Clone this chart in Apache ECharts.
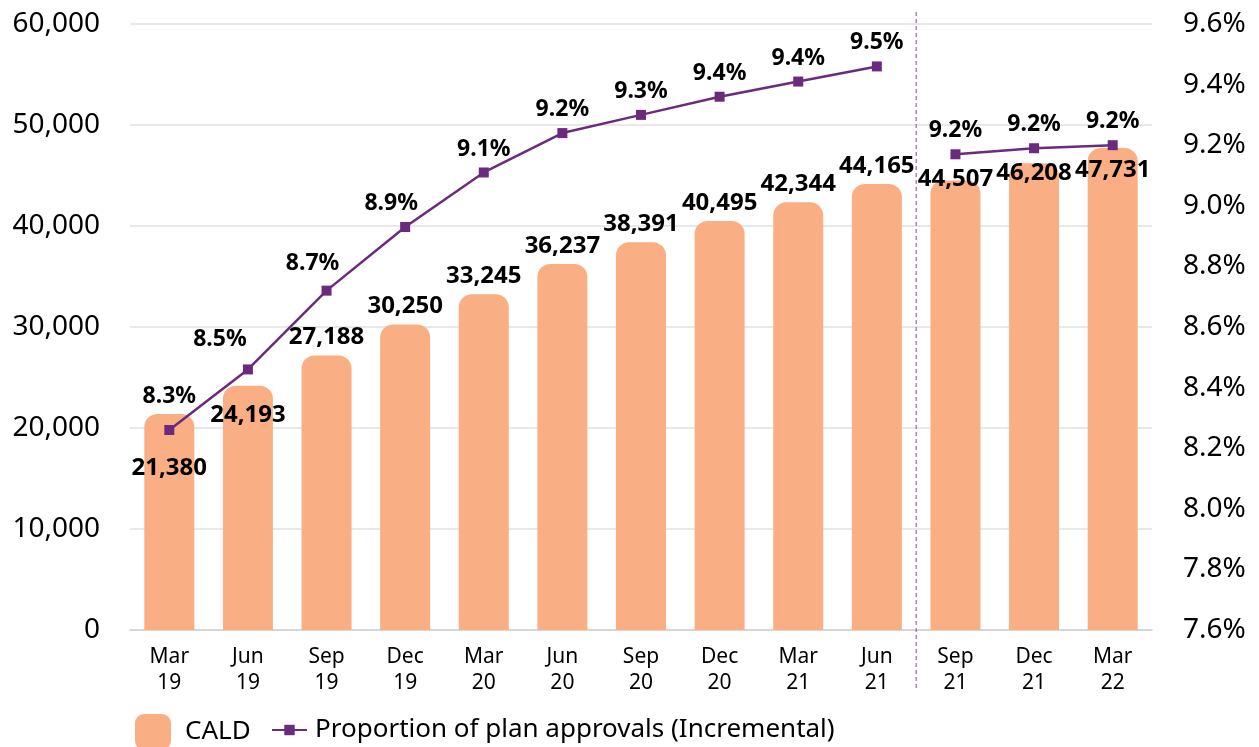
<!DOCTYPE html>
<html>
<head>
<meta charset="utf-8">
<script src="https://cdn.jsdelivr.net/npm/echarts@6/dist/echarts.min.js"></script>
<style>
  html, body { margin: 0; padding: 0; background: #fff; }
  #chart { width: 1259px; height: 747px; }
</style>
</head>
<body>
<div id="chart"></div>
<script>
// categories (quarter, year)
const quarters = ['Mar\n19', 'Jun\n19', 'Sep\n19', 'Dec\n19', 'Mar\n20', 'Jun\n20', 'Sep\n20',
  'Dec\n20', 'Mar\n21', 'Jun\n21', 'Sep\n21', 'Dec\n21', 'Mar\n22'];

// CALD participants (bars)
const caldCounts = [21380, 24193, 27188, 30250, 33245, 36237, 38391, 40495, 42344, 44165, 44507, 46208, 47731];

// proportion of plan approvals, % (line)
const planShare = [8.26, 8.46, 8.72, 8.93, 9.11, 9.24, 9.30, 9.36, 9.41, 9.46, 9.17, 9.19, 9.20];

// first series of the line stops at Jun 21, second one starts at Sep 21
const breakIndex = 10;

const leftTicks = { min: 0, max: 60000, interval: 10000 };
const rightTicks = { min: 7.6, max: 9.6, interval: 0.2 };

// label nudges so the numbers don't sit on the line
const barLabelShift = { 0: 72, 1: 48, 10: 17, 11: 28, 12: 40 };
const lineLabelShift = { 0: [0, -10], 1: [-28, -6], 2: [-14, -4], 3: [-14, 0] };

const FONT = '"Noto Sans", sans-serif';
const BAR_COLOR = '#F9AE84';
const LINE_COLOR = '#6C2A7F';
const LINE_NAME = 'Proportion of plan approvals (Incremental)';

const chart = echarts.init(document.getElementById('chart'));

const barData = caldCounts.map((v, i) => {
  if (barLabelShift[i] === undefined) return v;
  return { value: v, label: { offset: [0, barLabelShift[i]] } };
});

const lineItem = (v, i) => {
  if (!lineLabelShift[i]) return v;
  return { value: v, label: { offset: lineLabelShift[i] } };
};
const lineFirst = planShare.map((v, i) => (i < breakIndex ? lineItem(v, i) : '-'));
const lineSecond = planShare.map((v, i) => (i >= breakIndex ? lineItem(v, i) : '-'));

const lineSeries = (data) => ({
  name: LINE_NAME,
  type: 'line',
  yAxisIndex: 1,
  data: data,
  symbol: 'rect',
  symbolSize: 10,
  z: 5,
  lineStyle: { color: LINE_COLOR, width: 2.5 },
  itemStyle: { color: LINE_COLOR },
  label: {
    show: true,
    position: 'top',
    distance: 7,
    color: '#000',
    fontFamily: FONT,
    fontWeight: 'bold',
    fontSize: 23,
    formatter: (p) => p.value.toFixed(1) + '%'
  }
});

const legendText = { fontSize: 26, color: '#000', fontFamily: FONT };

chart.setOption({
  animation: false,
  textStyle: { fontFamily: FONT },
  grid: { left: 130, right: 107, top: 24, bottom: 117 },
  legend: [
    {
      left: 130,
      top: 709,
      itemWidth: 36,
      itemHeight: 36,
      textStyle: Object.assign({ padding: [0, 0, 0, 9] }, legendText),
      data: [{ name: 'CALD', icon: 'roundRect' }]
    },
    {
      left: 266,
      top: 712,
      itemWidth: 35,
      itemHeight: 13,
      textStyle: Object.assign({ padding: [0, 0, 0, 3] }, legendText),
      data: [{ name: LINE_NAME }]
    }
  ],
  xAxis: {
    type: 'category',
    data: quarters,
    axisTick: { show: false },
    axisLine: { lineStyle: { color: '#d0d0d0', width: 1.5 } },
    axisLabel: { color: '#000', fontSize: 21, lineHeight: 26, margin: 14, fontFamily: FONT }
  },
  yAxis: [
    {
      type: 'value',
      min: leftTicks.min,
      max: leftTicks.max,
      interval: leftTicks.interval,
      axisLabel: {
        color: '#000', fontSize: 28, margin: 30, fontFamily: FONT,
        formatter: (v) => v.toLocaleString('en-US')
      },
      splitLine: { lineStyle: { color: '#e0e0e0', width: 1.5 } }
    },
    {
      type: 'value',
      min: rightTicks.min,
      max: rightTicks.max,
      interval: rightTicks.interval,
      splitLine: { show: false },
      axisLabel: {
        color: '#000', fontSize: 28, margin: 31, fontFamily: FONT,
        formatter: (v) => v.toFixed(1) + '%'
      }
    }
  ],
  series: [
    {
      name: 'CALD',
      type: 'bar',
      data: barData,
      barWidth: 50,
      itemStyle: { color: BAR_COLOR, borderRadius: [13, 13, 0, 0] },
      label: {
        show: true,
        position: 'top',
        distance: 6,
        color: '#000',
        fontFamily: FONT,
        fontWeight: 'bold',
        fontSize: 24,
        formatter: (p) => p.value.toLocaleString('en-US')
      }
    },
    lineSeries(lineFirst),
    lineSeries(lineSecond)
  ]
});

// dashed divider between Jun 21 and Sep 21
const xa = chart.convertToPixel({ xAxisIndex: 0 }, breakIndex - 1);
const xb = chart.convertToPixel({ xAxisIndex: 0 }, breakIndex);
const xMid = (xa + xb) / 2;
chart.setOption({
  graphic: [{
    type: 'line',
    shape: { x1: xMid, y1: 12, x2: xMid, y2: 690 },
    style: { stroke: '#7A4A8C', lineWidth: 1, lineDash: [4, 3] },
    z: 1
  }]
});
</script>
</body>
</html>
